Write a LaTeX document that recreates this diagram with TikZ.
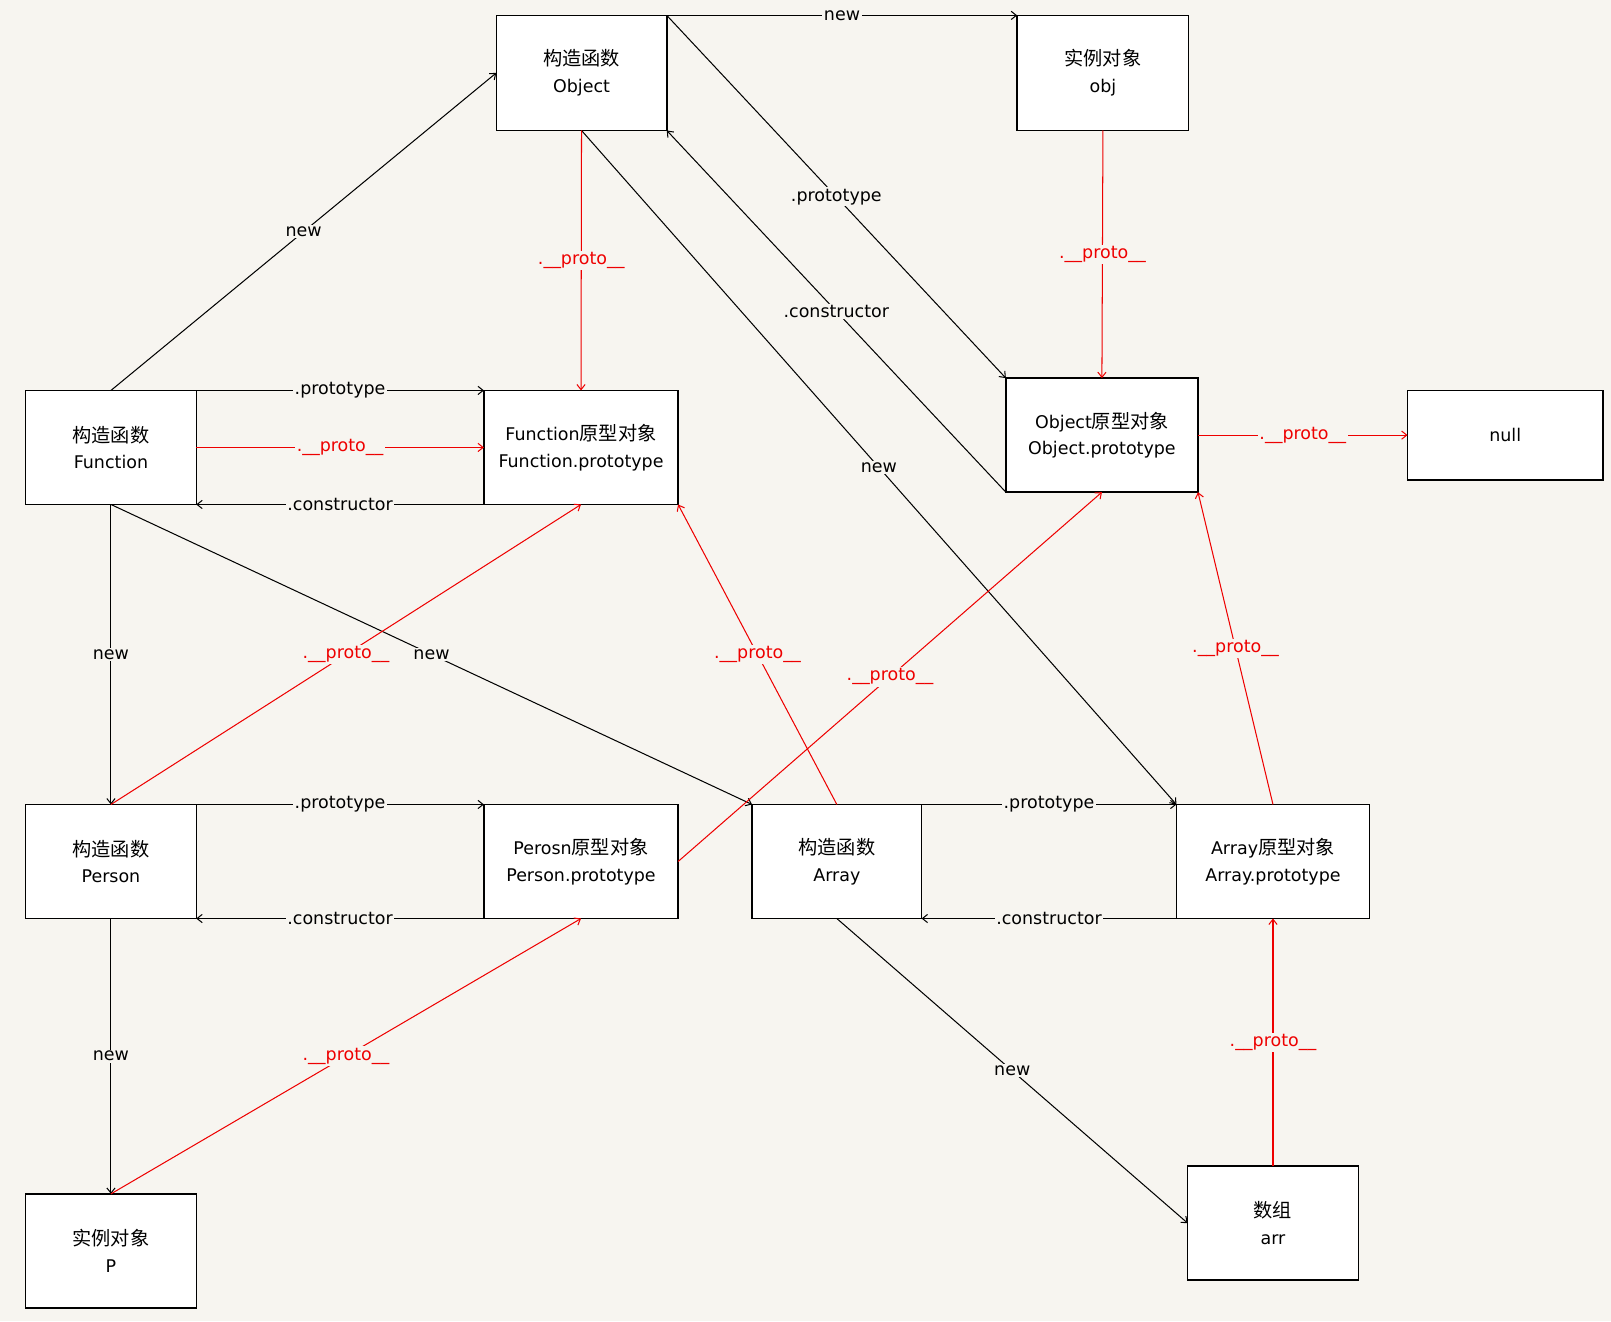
\documentclass[tikz,border=0pt]{standalone}
\usepackage{fontspec}
\setmainfont{DejaVu Sans}
\newfontfamily\cjk[Scale=1.1]{Noto Sans CJK SC}
\usetikzlibrary{arrows.meta}
\definecolor{bg}{HTML}{F7F5F0}
\definecolor{pred}{HTML}{EE0000}
\begin{document}
\begin{tikzpicture}[x=1pt,y=-1pt,
 box/.style={draw=black, line width=1.4pt, fill=white, inner sep=0pt, outer sep=0pt, align=center, font=\fontsize{17}{26}\selectfont},
 conn/.style={line width=1pt, -{Straight Barb[length=5pt,width=8pt]}},
 pconn/.style={conn, draw=pred},
 lab/.style={fill=bg, inner sep=1.5pt, font=\fontsize{17}{20}\selectfont, text=black},
 plab/.style={lab, text=pred}]
\fill[bg] (0,0) rectangle (1568,1286);
\useasboundingbox (0,0) rectangle (1568,1286);
% boxes
\node[box, minimum width=166pt, minimum height=112pt] (O) at (566,71) {{\cjk 构造函数}\\Object};
\node[box, minimum width=167pt, minimum height=112pt] (obj) at (1073.5,71) {{\cjk 实例对象}\\obj};
\node[box, minimum width=166pt, minimum height=111pt] (F) at (108,435.5) {{\cjk 构造函数}\\Function};
\node[box, minimum width=189pt, minimum height=111pt] (FP) at (565.5,435.5) {Function{\cjk 原型对象}\\Function.prototype};
\node[box, minimum width=187pt, minimum height=111pt] (OP) at (1072.5,423.5) {Object{\cjk 原型对象}\\Object.prototype};
\node[box, minimum width=190pt, minimum height=87pt] (null) at (1465,423.5) {null};
\node[box, minimum width=166pt, minimum height=111pt] (Pe) at (108,838.5) {{\cjk 构造函数}\\Person};
\node[box, minimum width=189pt, minimum height=111pt] (PP) at (565.5,838.5) {Perosn{\cjk 原型对象}\\Person.prototype};
\node[box, minimum width=165pt, minimum height=111pt] (A) at (814.5,838.5) {{\cjk 构造函数}\\Array};
\node[box, minimum width=188pt, minimum height=111pt] (AP) at (1239,838.5) {Array{\cjk 原型对象}\\Array.prototype};
\node[box, minimum width=166pt, minimum height=111pt] (arr) at (1239,1190.5) {{\cjk 数组}\\arr};
\node[box, minimum width=166pt, minimum height=111pt] (p) at (108,1217.5) {{\cjk 实例对象}\\P};
% black connectors
\draw[conn] (O.north east) -- node[lab, midway] {new} (obj.north west);
\draw[conn] (O.north east) -- node[lab, midway] {.prototype} (OP.north west);
\draw[conn] (OP.south west) -- node[lab, midway] {.constructor} (O.south east);
\draw[conn] (O.south) -- node[lab, midway] {new} (AP.north west);
\draw[conn] (F.north) -- node[lab, midway] {new} (O.west);
\draw[conn] (F.north east) -- node[lab, midway] {.prototype} (FP.north west);
\draw[conn] (FP.south west) -- node[lab, midway] {.constructor} (F.south east);
\draw[conn] (F.south) -- node[lab, midway] {new} (Pe.north);
\draw[conn] (F.south) -- node[lab, midway] {new} (A.north west);
\draw[conn] (Pe.north east) -- node[lab, midway] {.prototype} (PP.north west);
\draw[conn] (PP.south west) -- node[lab, midway] {.constructor} (Pe.south east);
\draw[conn] (A.north east) -- node[lab, midway] {.prototype} (AP.north west);
\draw[conn] (AP.south west) -- node[lab, midway] {.constructor} (A.south east);
\draw[conn] (Pe.south) -- node[lab, midway] {new} (p.north);
\draw[conn] (A.south) -- node[lab, midway] {new} (arr.west);
% red connectors
\draw[pconn] (O.south) -- node[plab, midway] {.\_\_proto\_\_} (FP.north);
\draw[pconn] (obj.south) -- node[plab, midway] {.\_\_proto\_\_} (OP.north);
\draw[pconn] (OP.east) -- node[plab, midway] {.\_\_proto\_\_} (null.west);
\draw[pconn] (F.east) -- node[plab, midway] {.\_\_proto\_\_} (FP.west);
\draw[pconn] (Pe.north) -- node[plab, midway] {.\_\_proto\_\_} (FP.south);
\draw[pconn] (A.north) -- node[plab, midway] {.\_\_proto\_\_} (FP.south east);
\draw[pconn] (PP.east) -- node[plab, midway] {.\_\_proto\_\_} (OP.south);
\draw[pconn] (AP.north) -- node[plab, midway] {.\_\_proto\_\_} (OP.south east);
\draw[pconn] (p.north) -- node[plab, midway] {.\_\_proto\_\_} (PP.south);
\draw[pconn] (arr.north) -- node[plab, midway] {.\_\_proto\_\_} (AP.south);
\end{tikzpicture}
\end{document}
